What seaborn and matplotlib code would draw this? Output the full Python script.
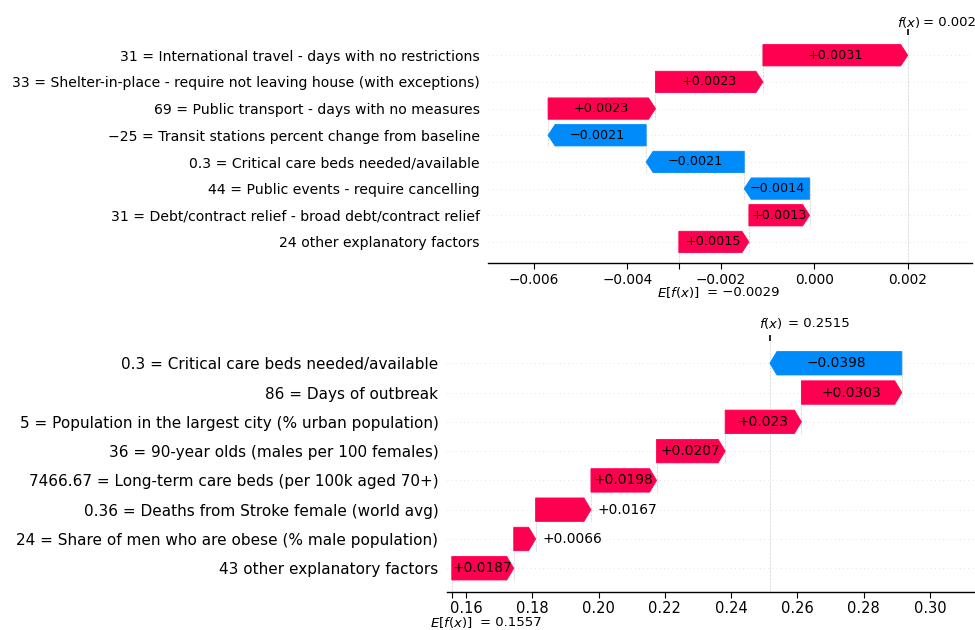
import numpy as np
import matplotlib
matplotlib.use('Agg')
import matplotlib.pyplot as plt
import seaborn as sns

# upper waterfall, rows listed top to bottom
top_features = [
    '31 = International travel - days with no restrictions',
    '33 = Shelter-in-place - require not leaving house (with exceptions)',
    '69 = Public transport - days with no measures',
    '\u221225 = Transit stations percent change from baseline',
    '0.3 = Critical care beds needed/available',
    '44 = Public events - require cancelling',
    '31 = Debt/contract relief - broad debt/contract relief',
    '24 other explanatory factors',
]
top_shap = [0.0031, 0.0023, 0.0023, -0.0021, -0.0021, -0.0014, 0.0013, 0.0015]
top_base = -0.0029
top_base_txt = '\u22120.0029'
top_fx_txt = '0.002'
top_ticks = [-0.006, -0.004, -0.002, 0.000, 0.002]
top_ticklabels = ['\u22120.006', '\u22120.004', '\u22120.002', '0.000', '0.002']

# lower waterfall, rows listed top to bottom
bottom_features = [
    '0.3 = Critical care beds needed/available',
    '86 = Days of outbreak',
    '5 = Population in the largest city (% urban population)',
    '36 = 90-year olds (males per 100 females)',
    '7466.67 = Long-term care beds (per 100k aged 70+)',
    '0.36 = Deaths from Stroke female (world avg)',
    '24 = Share of men who are obese (% male population)',
    '43 other explanatory factors',
]
bottom_shap = [-0.0398, 0.0303, 0.023, 0.0207, 0.0198, 0.0167, 0.0066, 0.0187]
bottom_base = 0.1557
bottom_base_txt = '0.1557'
bottom_fx_txt = '0.2515'
bottom_ticks = [0.16, 0.18, 0.20, 0.22, 0.24, 0.26, 0.28, 0.30]
bottom_ticklabels = ['0.16', '0.18', '0.20', '0.22', '0.24', '0.26', '0.28', '0.30']

RED = '#ff0051'
BLUE = '#008bfb'

sns.set_style('white', rc={'text.color': 'black', 'axes.labelcolor': 'black',
                           'xtick.color': 'black', 'ytick.color': 'black'})
plt.rcParams['font.family'] = ['DejaVu Sans']
plt.rcParams['mathtext.fontset'] = 'dejavusans'


def fmt(d):
    s = f'{abs(d):.4f}'.rstrip('0')
    return ('+' if d > 0 else '\u2212') + s


def waterfall(ax, features, shap_vals, base, base_txt, fx_txt, ticks, ticklabels,
              xlim, fs_label, fs_tick, fs_text, fs_ef, fx_dy, ef_dy, fx_eq):
    fig = ax.figure
    labels = features[::-1]
    vals = np.array(shap_vals[::-1])
    n = len(vals)
    rows = np.arange(n)
    starts = base + np.concatenate([[0], np.cumsum(vals)[:-1]])
    ends = starts + vals
    fx = ends[-1]

    ax.set_xlim(*xlim)
    ax.set_ylim(-0.8, n - 0.23)
    sns.despine(ax=ax, left=True)

    bbox = ax.get_window_extent().transformed(fig.dpi_scale_trans.inverted())
    xscale = (xlim[1] - xlim[0]) / bbox.width
    hl = 0.07 * xscale
    renderer = fig.canvas.get_renderer()

    for i in rows:
        ax.axhline(i, color='#cccccc', lw=0.5, dashes=(1, 5), zorder=-1)
    for i in rows[:-1]:
        ax.plot([ends[i], ends[i]], [i - 0.4, i + 1.4], color='#bbbbbb',
                lw=0.5, dashes=(1, 1), zorder=0)
    ax.plot([base, base], [-0.8, 0], color='#bbbbbb', lw=0.5, dashes=(1, 1), zorder=0)
    ax.axvline(fx, color='#bbbbbb', lw=0.5, dashes=(1, 1), zorder=0)

    for i in rows:
        d = vals[i]
        sign = 1 if d > 0 else -1
        color = RED if d > 0 else BLUE
        arr = ax.arrow(starts[i], i, sign * max(abs(d) - hl, 1e-6), 0,
                       head_length=min(abs(d), hl), width=0.8, head_width=0.8,
                       color=color, lw=0.6, zorder=2)
        txt = ax.text(starts[i] + d / 2, i, fmt(d), ha='center', va='center',
                      fontsize=fs_text, color='black', zorder=3)
        if txt.get_window_extent(renderer).width > arr.get_window_extent(renderer).width:
            txt.remove()
            off = 5 / 72 * xscale
            ax.text(ends[i] + sign * off, i, fmt(d), ha='left' if d > 0 else 'right',
                    va='center', fontsize=fs_text, color='black', zorder=3)

    ax.set_yticks(rows)
    ax.set_yticklabels(labels, fontsize=fs_label)
    ax.tick_params(axis='y', length=3, color='#cccccc', pad=3)
    ax.set_xticks(ticks)
    ax.set_xticklabels(ticklabels, fontsize=fs_tick)
    ax.tick_params(axis='x', length=4, width=0.8, pad=3)
    ax.spines['bottom'].set_linewidth(1.0)
    ax.spines['bottom'].set_color('black')

    # f(x) tick on top, E[f(x)] tick on bottom
    ax3 = ax.twiny()
    ax3.set_xlim(*xlim)
    ax3.set_xticks([fx])
    ax3.set_xticklabels([''])
    ax3.tick_params(axis='x', length=4, width=1.2)
    for sp in ax3.spines.values():
        sp.set_visible(False)
    ax2 = ax.twiny()
    ax2.set_xlim(*xlim)
    ax2.xaxis.set_ticks_position('bottom')
    ax2.set_xticks([base])
    ax2.set_xticklabels([''])
    ax2.tick_params(axis='x', length=4, width=0.8)
    for sp in ax2.spines.values():
        sp.set_visible(False)

    tr = ax.get_xaxis_transform()
    ax.annotate('$f(x)$', xy=(fx, 1), xycoords=tr, xytext=(-11, fx_dy),
                textcoords='offset pixels', ha='left', va='center', fontsize=fs_ef,
                annotation_clip=False)
    ax.annotate('= ' + fx_txt, xy=(fx, 1), xycoords=tr, xytext=(fx_eq, fx_dy),
                textcoords='offset pixels', ha='left', va='center', fontsize=fs_ef,
                annotation_clip=False)
    ax.annotate('$E[f(x)]$', xy=(base, 0), xycoords=tr, xytext=(-22, -ef_dy),
                textcoords='offset pixels', ha='left', va='center', fontsize=fs_ef,
                annotation_clip=False)
    ax.annotate('= ' + base_txt, xy=(base, 0), xycoords=tr, xytext=(28, -ef_dy),
                textcoords='offset pixels', ha='left', va='center', fontsize=fs_ef,
                annotation_clip=False)


fig = plt.figure(figsize=(9.75, 6.3), dpi=100)
ax_top = fig.add_axes([0.5008, 0.5821, 0.4958, 0.3628])
ax_bot = fig.add_axes([0.4582, 0.0608, 0.5418, 0.3984])

waterfall(ax_top, top_features, top_shap, top_base, top_base_txt, top_fx_txt,
          top_ticks, top_ticklabels, (-0.00698, 0.00337),
          fs_label=10.1, fs_tick=9.8, fs_text=9.2, fs_ef=9.5, fx_dy=12, ef_dy=29, fx_eq=15)
waterfall(ax_bot, bottom_features, bottom_shap, bottom_base, bottom_base_txt, bottom_fx_txt,
          bottom_ticks, bottom_ticklabels, (0.15418, 0.31359),
          fs_label=11.0, fs_tick=10.5, fs_text=9.9, fs_ef=9.5, fx_dy=17, ef_dy=31, fx_eq=18)

fig.savefig('out.png', dpi=100)
